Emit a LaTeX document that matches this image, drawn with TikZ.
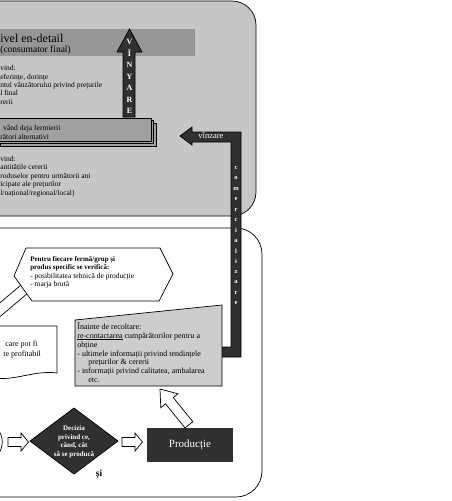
\documentclass[tikz,border=0pt]{standalone}
\usepackage{fontspec}
\setmainfont{Liberation Serif}
\usetikzlibrary{calc}
\definecolor{panelgray}{RGB}{198,198,198}
\definecolor{bandgray}{RGB}{150,150,150}
\definecolor{boxgray}{RGB}{160,160,160}
\definecolor{notegray}{RGB}{205,205,205}
\definecolor{darkfill}{RGB}{48,48,48}

\begin{document}
\begin{tikzpicture}[x=1pt,y=-1pt,line width=0.7pt,
	txt/.style={anchor=base west,inner sep=0pt,font=\fontsize{7.5}{8}\selectfont},
	btxt/.style={txt,font=\bfseries\fontsize{7}{8}\selectfont},
	lettr/.style={inner sep=0pt,text=white,font=\bfseries\fontsize{6.5}{7}\selectfont}]
		\useasboundingbox (0,0) rectangle (451,501);
		% the two panels
		\draw[fill=panelgray,rounded corners=24pt] (-30,1) rectangle (256,216);
		\draw[fill=white,rounded corners=26pt] (-30,228) rectangle (262,497);
		
		% nivel en-detail
		\fill[bandgray] (-5,29) rectangle (195,56);
		\node[txt,font=\fontsize{12}{13}\selectfont] (titlu) at (0,42) {ivel en-detail};
		\node[txt,font=\fontsize{9.5}{10}\selectfont] (consum) at (0,52) {(consumator final)};
		\foreach \t [count=\i] in {vind:, {eferințe, dorințe}, ntul vânzătorului privind prețurile, l final, rerii}
			\node[txt] (sus\i) at (0,{62.5+8.3*\i}) {\t};
		
		\foreach \d in {5,2.5,0}
			\draw[fill=boxgray] (-5+\d,118+\d) rectangle (151+\d,141+\d);
		\node[txt] (ferm1) at (3,130) {vând deja fermierii};
		\node[txt] (ferm2) at (0,139.5) {rători alternativi};
		\foreach \t [count=\i] in {vind:, antitățile cererii, roduselor pentru următorii ani, icipate ale prețurilor, l/național/regional/local)}
			\node[txt] (jos\i) at (0,{152.5+8.5*\i}) {\t};
		
		% vinzare in sus
		\draw[fill=darkfill] (123,117) -- (123,52) -- (117,52) -- (129.5,29) -- (142,52) -- (135,52) -- (135,117) -- cycle;
		\foreach \l [count=\i] in {V,Î,N,Y,A,R,E}
			\node[lettr,font=\bfseries\fontsize{8}{8}\selectfont] (v\i) at (129.5,{30.5+11.5*\i}) {\l};
		
		% comercializare + vinzare
		\draw[fill=darkfill] (180,136) -- (192,127) -- (192,132) -- (241,132) -- (241,357) -- (222,357)
			-- (222,347) -- (231,347) -- (231,142) -- (192,142) -- (192,145) -- cycle;
		\node[inner sep=0pt,text=white,font=\fontsize{8.5}{9}\selectfont] (vinz) at (211,136) {vînzare};
		\foreach \l [count=\i] in {c,o,m,e,r,c,i,a,l,i,z,a,r,e}
			\node[lettr] (c\i) at (236,{157.6+10.4*\i}) {\l};
		
		% verificare
		\draw[fill=white] (21,285) -- (28,293) -- (-4,320) -- (-11,312) -- cycle;
		\draw[fill=white] (26,248) -- (160,248) -- (173,274) -- (159,301) -- (32,301) -- (14,276) -- cycle;
		\node[btxt] (ver1) at (30,261) {Pentru fiecare fermă/grup și};
		\node[btxt] (ver2) at (30,269.5) {produs specific se verifică:};
		\node[txt] (ver3) at (30,278) {- posibilitatea tehnică de producție};
		\node[txt] (ver4) at (30,286.5) {- marja brută};
		
		\draw[fill=white] (-5,326) -- (57,326) -- (57,373) .. controls (35,370) and (15,381) .. (-5,378) -- cycle;
		\node[txt,font=\fontsize{8}{9}\selectfont] (prof1) at (5,346) {care pot fi};
		\node[txt,font=\fontsize{8}{9}\selectfont] (prof2) at (3,356) {te profitabil};
		
		% inainte de recoltare
		\draw[fill=notegray] (75,320) -- (222,305) -- (222,386) -- (75,386) -- cycle;
		\begin{scope}[txt/.append style={font=\fontsize{8}{9}\selectfont}]
		\node[txt] (rec1) at (77,329) {Înainte de recoltare:};
		\node[txt] (rec2) at (77,338) {\underline{re-contactarea} cumpărătorilor pentru a};
		\node[txt] (rec3) at (77,347) {obține};
		\node[txt] (rec4) at (77,356) {- ultimele informații privind tendințele};
		\node[txt] (rec5) at (88,364.5) {prețurilor \& cererii};
		\node[txt] (rec6) at (77,373) {- informații privind calitatea, ambalarea};
		\node[txt] (rec7) at (88,382) {etc.};
		\end{scope}
		
		\draw[fill=white] (160,389) -- (178,393.8) -- (173.3,397.6) -- (192.8,421.7) -- (185,427.9)
			-- (165.5,403.8) -- (160.8,407.6) -- cycle;
		
		% decizia si productia
		\draw (-3,428) .. controls (4,436) and (4,448) .. (-3,456);
		\draw[fill=white] (8,437.5) -- (21,437.5) -- (21,433) -- (28.5,442) -- (21,451) -- (21,446.5) -- (8,446.5) -- cycle;
		\draw[fill=darkfill] (30,441) -- (74,408) -- (118,441) -- (74,474) -- cycle;
		\node[align=center,text=white,font=\bfseries\fontsize{7}{8.6}\selectfont] (decizia) at (74,442)
			{Decizia\\privind ce,\\când, cât\\să se producă};
		\node[font=\bfseries\fontsize{9.5}{10}\selectfont] (si) at (99,474) {și};
		\draw[fill=white] (122,437.5) -- (135,437.5) -- (135,433) -- (142.5,442) -- (135,451) -- (135,446.5) -- (122,446.5) -- cycle;
		\node[fill=darkfill,minimum width=86pt,minimum height=34pt,text=white,font=\fontsize{11}{13}\selectfont] (productie) at (190,445) {Producție};
\end{tikzpicture}
\end{document}
